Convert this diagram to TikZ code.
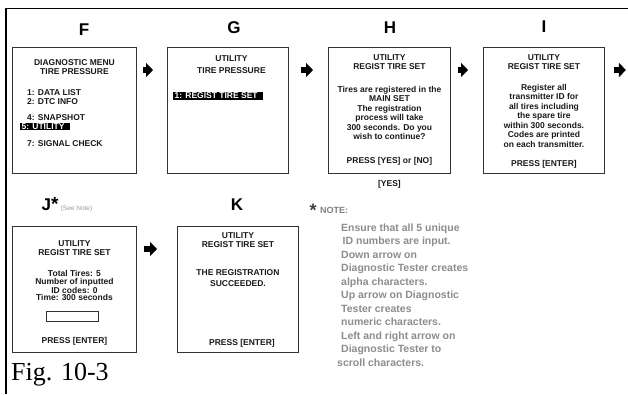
\documentclass[tikz,border=0pt]{standalone}
\usepackage{fontspec}
\setmainfont{Liberation Serif}
\setsansfont{Liberation Sans}
\usetikzlibrary{arrows.meta,positioning}

\tikzset{
  screen/.style={draw=black!80, line width=0.9pt, anchor=north west, inner sep=0pt,
    minimum width=122pt, minimum height=126pt},
  scrtxt/.style={font=\sffamily\bfseries\fontsize{8.5}{9.5}\selectfont, text=black!90,
    align=center, inner sep=0pt},
  hilite/.style={scrtxt, fill=black, text=white, inner xsep=1.5pt, inner ysep=1pt},
  letter/.style={font=\sffamily\bfseries\fontsize{17}{17}\selectfont, inner sep=0pt},
  fwd/.style={line width=5.5pt, -{Triangle[length=7pt,width=14pt]}},
  notetxt/.style={font=\sffamily\bfseries\fontsize{10.5}{13.5}\selectfont, text=black!45,
    align=left, inner sep=0pt, anchor=north west},
}

\begin{document}
\begin{tikzpicture}[x=1pt,y=-1pt]
\useasboundingbox (0,0) rectangle (628,394);
\draw[line width=1.6pt] (6,394) -- (6,8.5) -- (628,8.5);

% screens, top row
\node[screen, minimum width=124pt] (F) at (12,47) {};
\node[screen, minimum width=121pt] (G) at (167,47) {};
\node[screen] (H) at (328,47) {};
\node[screen, minimum width=121pt] (I) at (483,47) {};
% screens, bottom row
\node[screen, minimum width=124pt] (J) at (12,226) {};
\node[screen, minimum width=121pt] (K) at (177,226) {};

\node[letter] (Ft) at (84,30) {F};
\node[letter] (Gt) at (234,28) {G};
\node[letter] (Ht) at (390,28) {H};
\node[letter] (It) at (544,27) {I};
\node[letter] (Jt) at (50,204) {J{\fontsize{19}{19}\selectfont*}};
\node[font=\sffamily\fontsize{6.5}{6.5}\selectfont, text=black!40, inner sep=0pt, anchor=base west]
  (seenote) at ([xshift=2pt]Jt.base east) {(See Note)};
\node[letter] (Kt) at (237,205) {K};

% F
\node[scrtxt, below=12pt of F.north] (Fhead) {DIAGNOSTIC MENU\\TIRE PRESSURE};
\node[scrtxt, anchor=north west, align=left] (Flist) at ([xshift=15pt,yshift=-42pt]F.north west)
  {1: DATA LIST\\2: DTC INFO};
\node[scrtxt, anchor=north west] (Fsnap) at ([xshift=15pt,yshift=-67pt]F.north west) {4: SNAPSHOT};
\node[hilite, anchor=west] (Futil) at ([xshift=8pt,yshift=-79.5pt]F.north west) {5: UTILITY\hspace*{4pt}};
\node[scrtxt, anchor=north west] (Fsig) at ([xshift=15pt,yshift=-93pt]F.north west) {7: SIGNAL CHECK};

% G
\node[scrtxt, below=8pt of G.north, xshift=3.5pt] (Ghead) {UTILITY\\[2.5pt]TIRE PRESSURE};
\node[hilite, anchor=west] (Greg) at ([xshift=6pt,yshift=-49pt]G.north west) {1: REGIST TIRE SET\hspace*{4pt}};

% H
\node[scrtxt, below=7pt of H.north] (Hhead) {UTILITY\\REGIST TIRE SET};
\node[scrtxt, below=39pt of H.north] (Hbody) {Tires are registered in the\\MAIN SET\\The registration\\
  process will take\\300 seconds. Do you\\wish to continue?};
\node[scrtxt, below=110pt of H.north] (Hpress) {PRESS [YES] or [NO]};
\node[scrtxt, below=6pt of H.south] (yes) {[YES]};

% I
\node[scrtxt, below=7pt of I.north] (Ihead) {UTILITY\\REGIST TIRE SET};
\node[scrtxt, below=37pt of I.north] (Ibody) {Register all\\transmitter ID for\\all tires including\\
  the spare tire\\within 300 seconds.\\Codes are printed\\on each transmitter.};
\node[scrtxt, below=113pt of I.north] (Ipress) {PRESS [ENTER]};

% J
\node[scrtxt, below=14pt of J.north] (Jhead) {UTILITY\\REGIST TIRE SET};
\node[scrtxt, below=44pt of J.north, font=\sffamily\bfseries\fontsize{8.5}{7.8}\selectfont] (Jbody)
  {Total Tires: 5\\Number of inputted\\ID codes: 0\\Time: 300 seconds};
\node[draw=black!80, line width=0.8pt, minimum width=52pt, minimum height=10pt, inner sep=0pt]
  (entry) at ([xshift=-2pt,yshift=-90pt]J.north) {};
\node[scrtxt, below=111pt of J.north] (Jpress) {PRESS [ENTER]};

% K
\node[scrtxt, below=6pt of K.north] (Khead) {UTILITY\\REGIST TIRE SET};
\node[scrtxt, below=43pt of K.north, font=\sffamily\bfseries\fontsize{8.5}{11}\selectfont] (Kbody)
  {THE REGISTRATION\\SUCCEEDED.};
\node[scrtxt, below=113pt of K.north, xshift=4pt] (Kpress) {PRESS [ENTER]};

% arrows
\coordinate (Iout) at ([xshift=21pt,yshift=-23pt]I.north east);
\draw[fwd] ([xshift=6pt,yshift=-23pt]F.north east) -- ([xshift=-14pt,yshift=-23pt]G.north west);
\draw[fwd] ([xshift=12pt,yshift=-23pt]G.north east) -- ([xshift=-15pt,yshift=-23pt]H.north west);
\draw[fwd] ([xshift=7pt,yshift=-23pt]H.north east) -- ([xshift=-15pt,yshift=-23pt]I.north west);
\draw[fwd] ([xshift=9pt,yshift=-23pt]I.north east) -- (Iout);
\draw[fwd] ([xshift=7pt,yshift=-23pt]J.north east) -- ([xshift=-20pt,yshift=-23pt]K.north west);

% note
\node[font=\sffamily\bfseries\fontsize{18}{18}\selectfont, text=black!75, inner sep=0pt]
  (star) at (313,210) {*};
\node[font=\sffamily\bfseries\fontsize{9}{9}\selectfont, text=black!50, inner sep=0pt, anchor=west]
  (notehd) at (320,210) {NOTE:};
\node[notetxt] (notebody) at (341,223.5) {Ensure that all 5 unique\\
  \hspace*{1.5pt}ID numbers are input.\\Down arrow on\\Diagnostic Tester creates\\alpha characters.\\
  Up arrow on Diagnostic\\Tester creates\\numeric characters.\\Left and right arrow on\\
  Diagnostic Tester to\\\hspace*{-4pt}scroll characters.};

\node[anchor=west, font=\fontsize{26}{26}\selectfont, inner sep=0pt] (fig) at (11,375) {Fig. 10-3};
\end{tikzpicture}
\end{document}
